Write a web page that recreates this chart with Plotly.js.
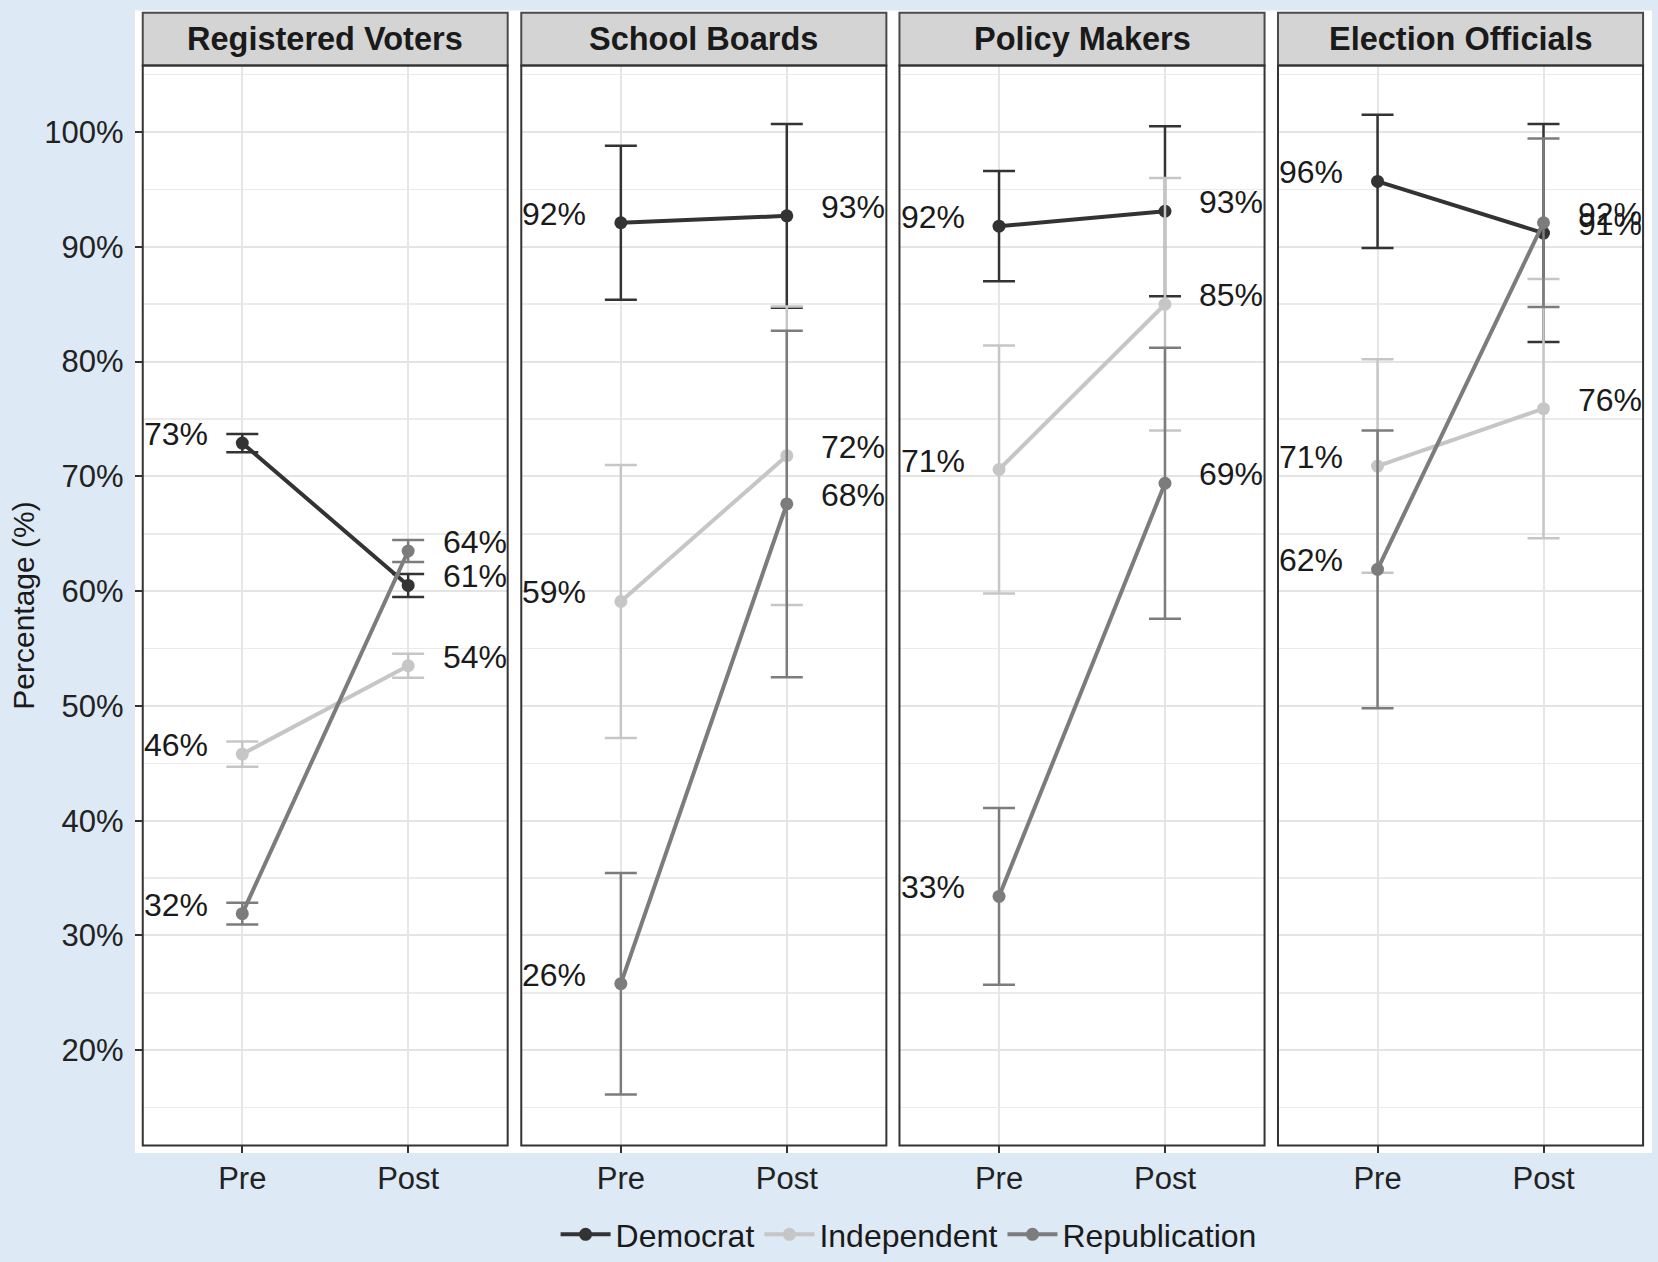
<!DOCTYPE html>
<html>
<head>
<meta charset="utf-8">
<script src="https://cdn.plot.ly/plotly-3.0.1.min.js"></script>
<style>
  html, body { margin: 0; padding: 0; background: #dde9f5; }
  #chart { width: 1658px; height: 1262px; }
</style>
</head>
<body>
<div id="chart"></div>
<script>
  // facets and x categories
  const panels = ['Registered Voters', 'School Boards', 'Policy Makers', 'Election Officials'];
  const periods = ['Pre', 'Post'];
  const parties = ['Democrat', 'Independent', 'Republication'];

  // point estimates (%), one value per facet
  const demPre = [72.9, 92.1, 91.8, 95.7];
  const demPost = [60.5, 92.7, 93.1, 91.2];
  const indPre = [45.8, 59.1, 70.6, 70.9];
  const indPost = [53.5, 71.8, 85.0, 75.9];
  const repPre = [31.9, 25.8, 33.4, 61.9];
  const repPost = [63.5, 67.6, 69.4, 92.1];

  // half-width of the error bars (%)
  const demErrPre = [0.8, 6.7, 4.8, 5.8];
  const demErrPost = [1.0, 8.0, 7.4, 9.5];
  const indErrPre = [1.1, 11.9, 10.8, 9.3];
  const indErrPost = [1.05, 13.0, 11.0, 11.3];
  const repErrPre = [0.95, 9.65, 7.7, 12.1];
  const repErrPost = [0.95, 15.1, 11.8, 7.35];

  const FONT = 'Liberation Sans, Arial, Helvetica, sans-serif';
  const partyColors = ['#333333', '#c6c6c6', '#7c7c7c'];
  const preSeries = [demPre, indPre, repPre];
  const postSeries = [demPost, indPost, repPost];
  const preErr = [demErrPre, indErrPre, repErrPre];
  const postErr = [demErrPost, indErrPost, repErrPost];

  // facet geometry in paper fractions
  const xDomains = [[0.0861, 0.3062], [0.3144, 0.5346], [0.5425, 0.7627], [0.7708, 0.9910]];
  const yDomain = [0.0909, 0.9480];
  const stripTop = 0.9899;
  const yRange = [11.7, 105.8];

  const traces = [];
  const annotations = [];
  const shapes = [];

  // white plotting backdrop
  shapes.push({
    type: 'rect', xref: 'paper', yref: 'paper',
    x0: 0.0814, x1: 0.9964, y0: 0.0850, y1: 0.9916,
    fillcolor: '#ffffff', line: { width: 0 }, layer: 'below',
  });

  const layout = {
    width: 1658,
    height: 1262,
    paper_bgcolor: '#dde9f5',
    plot_bgcolor: '#ffffff',
    margin: { l: 0, r: 0, t: 0, b: 0 },
    font: { family: FONT, color: '#1a1a1a' },
    showlegend: true,
    legend: {
      orientation: 'h',
      x: 0.548, xanchor: 'center',
      y: 0.020, yanchor: 'middle',
      bgcolor: 'rgba(0,0,0,0)',
      font: { size: 32, color: '#1a1a1a' },
      itemwidth: 50,
      traceorder: 'normal',
    },
  };

  panels.forEach((panel, i) => {
    const s = i === 0 ? '' : String(i + 1);

    layout['xaxis' + s] = {
      domain: xDomains[i],
      anchor: 'y' + s,
      type: 'category',
      range: [-0.6, 1.6],
      showgrid: true, gridcolor: '#e6e6e6', gridwidth: 2,
      zeroline: false, showline: false,
      ticks: 'outside', ticklen: 7, tickwidth: 2, tickcolor: '#333333',
      tickfont: { size: 31, color: '#222222' },
      ticklabelstandoff: -2,
    };
    layout['yaxis' + s] = {
      domain: yDomain,
      anchor: 'x' + s,
      range: yRange,
      tick0: 0, dtick: 10,
      ticksuffix: '%',
      showticklabels: i === 0,
      ticks: i === 0 ? 'outside' : '',
      ticklen: 7, tickwidth: 2, tickcolor: '#333333',
      tickfont: { size: 31, color: '#222222' },
      ticklabelstandoff: 5,
      showgrid: true, gridcolor: '#e4e4e4', gridwidth: 2,
      minor: { tick0: 0, dtick: 5, showgrid: true, gridcolor: '#ebebeb', gridwidth: 1.5, ticks: '' },
      zeroline: false, showline: false,
    };

    parties.forEach((party, p) => {
      const pre = preSeries[p][i];
      const post = postSeries[p][i];
      traces.push({
        type: 'scatter',
        mode: 'lines+markers',
        x: periods,
        y: [pre, post],
        xaxis: 'x' + s,
        yaxis: 'y' + s,
        name: party,
        legendgroup: party,
        showlegend: i === 0,
        line: { color: partyColors[p], width: 4 },
        marker: { color: partyColors[p], size: 13 },
        error_y: {
          type: 'data', visible: true,
          array: [preErr[p][i], postErr[p][i]],
          color: partyColors[p], thickness: 2.5, width: 16,
        },
        hoverinfo: 'skip',
      });

      // value labels beside the points
      [[pre, -0.4], [post, 1.4]].forEach(([v, xpos]) => {
        annotations.push({
          xref: 'x' + s, yref: 'y' + s,
          x: xpos, y: v,
          text: Math.round(v) + '%',
          showarrow: false,
          yshift: 9,
          font: { size: 32, color: '#1a1a1a' },
        });
      });
    });

    // strip header
    shapes.push({
      type: 'rect', xref: 'x' + s + ' domain', yref: 'paper',
      x0: 0, x1: 1, y0: yDomain[1], y1: stripTop,
      fillcolor: '#d4d4d4', line: { color: '#4a4a4a', width: 2 }, layer: 'above',
    });
    annotations.push({
      xref: 'x' + s + ' domain', yref: 'paper',
      x: 0.5, y: (yDomain[1] + stripTop) / 2,
      xanchor: 'center', yanchor: 'middle',
      text: panel, showarrow: false,
      font: { size: 32.5, weight: 'bold', color: '#1a1a1a' },
    });

    // panel border
    shapes.push({
      type: 'rect', xref: 'x' + s + ' domain', yref: 'y' + s + ' domain',
      x0: 0, x1: 1, y0: 0, y1: 1,
      line: { color: '#333333', width: 2 }, layer: 'above',
    });
  });

  // y-axis title
  annotations.push({
    xref: 'paper', yref: 'paper',
    x: 0.014, y: (yDomain[0] + yDomain[1]) / 2,
    xanchor: 'center', yanchor: 'middle',
    text: 'Percentage (%)', textangle: -90, showarrow: false,
    font: { size: 30, color: '#1a1a1a' },
  });

  layout.shapes = shapes;
  layout.annotations = annotations;

  Plotly.newPlot('chart', traces, layout, { displayModeBar: false, staticPlot: true });
</script>
</body>
</html>
